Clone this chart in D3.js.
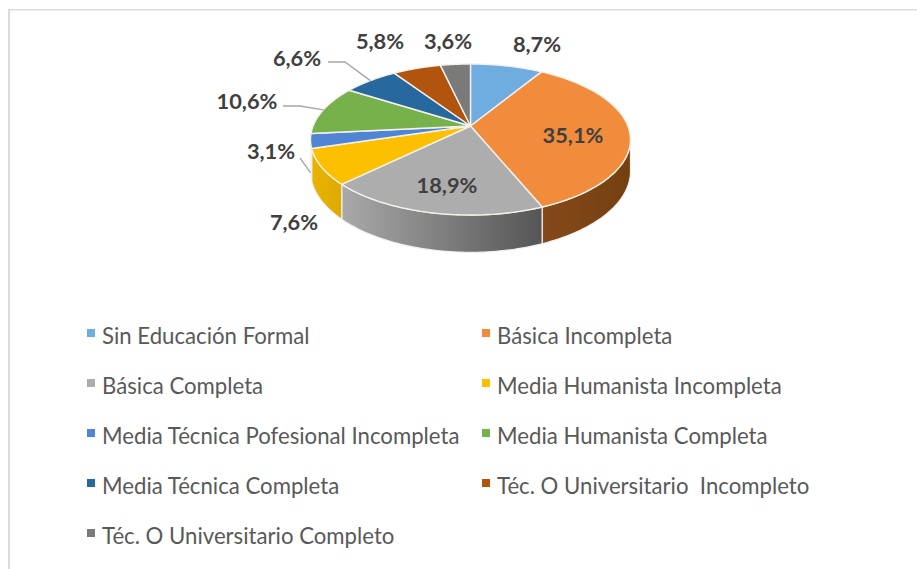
<!DOCTYPE html>
<html><head><meta charset="utf-8">
<script src="https://cdn.jsdelivr.net/npm/d3@7"></script>
<style>html,body{margin:0;background:#fff}svg{display:block}text{font-family:Lato,"Open Sans",sans-serif}</style>
</head><body><svg id="c" width="917" height="569"></svg>
<script>
const categories=["Sin Educación Formal","Básica Incompleta","Básica Completa","Media Humanista Incompleta","Media Técnica Pofesional Incompleta","Media Humanista Completa","Media Técnica Completa","Téc. O Universitario  Incompleto","Téc. O Universitario Completo"];
const values=[8.7,35.1,18.9,7.6,3.1,10.6,6.6,5.8,3.6];
const labels=["8,7%","35,1%","18,9%","7,6%","3,1%","10,6%","6,6%","5,8%","3,6%"];
const colors=["#6fade0","#f08c3c","#adadad","#fcc000","#4f85d2","#76b14c","#27689f","#b0540e","#7a7a7a"];
const wallDark=["#3d6a8f","#74400f","#555555","#deaa00","#2e5a9a","#44702c","#174060","#6b330a","#4a4a4a"];
const wallLight=["#5a8db8","#85491a","#a9a9a9","#e8b400","#3c6cb0","#5c8f3c","#1f5480","#8b4410","#606060"];
// layout
const labelPos=[[537,44],[573,135],[447,185],[294,222],[271,151],[247,101],[297,58],[380,41],[448,41]];
const leaderFrom={4:[300,158,true],5:[283,106,false],6:[328,62,false]};
const legendCols=[87,482], legendRows=[333,383,433,483,533];

const svg=d3.select("#c");
svg.append("rect").attr("x",8).attr("y",9).attr("width",2).attr("height",560).attr("fill","#dcdcdc");
svg.append("rect").attr("x",8).attr("y",9).attr("width",909).attr("height",1.5).attr("fill","#dcdcdc");
const defs=svg.append("defs");

const cx=470.5,cy=126,R=157.4,Rv=73.1,k=0.179,depth=30.6;
const persp=t=>1/(1+k*Math.cos(t));
const topPt=(t,r=1)=>{const s=persp(t);return [cx+r*R*Math.sin(t)*s,cy-r*Rv*Math.cos(t)*s];};
const bot=t=>{const p=topPt(t);return [p[0],p[1]+depth*persp(t)];};
const arcs=d3.pie().sort(null).value(d=>d)(values);
const frontA=Math.acos(-k),frontB=2*Math.PI-frontA;
const line=d3.line();
const samples=(a,b,n=60)=>d3.range(n+1).map(i=>a+(b-a)*i/n);

// walls
const gw=svg.append("g");
arcs.forEach((d,i)=>{
  const a=Math.max(d.startAngle,frontA),b=Math.min(d.endAngle,frontB);
  if(b<=a)return;
  const ts=samples(a,b);
  const pts=ts.map(t=>topPt(t)).concat(ts.slice().reverse().map(bot));
  const xs=pts.map(p=>p[0]);
  const id="w"+i;
  const g=defs.append("linearGradient").attr("id",id).attr("gradientUnits","userSpaceOnUse")
    .attr("x1",d3.min(xs)).attr("x2",d3.max(xs)).attr("y1",0).attr("y2",0);
  g.append("stop").attr("offset",0).attr("stop-color",wallLight[i]);
  g.append("stop").attr("offset",1).attr("stop-color",wallDark[i]);
  gw.append("path").attr("d",line(pts)+"Z").attr("fill",`url(#${id})`).attr("stroke","#f0f0f0").attr("stroke-width",1.2).attr("stroke-linejoin","round");
});
// top faces
const gt=svg.append("g");
arcs.forEach((d,i)=>{
  const pts=[[cx,cy]].concat(samples(d.startAngle,d.endAngle).map(t=>topPt(t)));
  gt.append("path").attr("d",line(pts)+"Z").attr("fill",colors[i]).attr("stroke","#f4f0ea").attr("stroke-width",1.4).attr("stroke-linejoin","round");
});
// leaders
arcs.forEach((d,i)=>{
  const f=leaderFrom[i]; if(!f)return;
  const mid=(d.startAngle+d.endAngle)/2;
  const end=f[2]?bot(mid):topPt(mid);
  const pts=f[2]?[[f[0],f[1]],end]:[[f[0],f[1]],[f[0]+17,f[1]],end];
  svg.append("path").attr("d",line(pts)).attr("fill","none").attr("stroke","#a6a6a6").attr("stroke-width",1.3);
});
// labels
svg.append("g").selectAll("text").data(labels).join("text")
  .attr("x",(d,i)=>labelPos[i][0]).attr("y",(d,i)=>labelPos[i][1]).attr("dy","0.35em")
  .attr("text-anchor","middle").attr("font-weight",700).attr("font-size",21.8).attr("fill","#404040").text(d=>d);
// legend
const lg=svg.append("g").selectAll("g").data(categories).join("g")
  .attr("transform",(d,i)=>`translate(${legendCols[i%2]},${legendRows[Math.floor(i/2)]})`);
lg.append("rect").attr("x",0).attr("y",-4).attr("width",8).attr("height",8).attr("fill",(d,i)=>colors[i]);
lg.append("text").attr("x",15).attr("y",10.5).attr("font-size",22.2).attr("fill","#595959").style("white-space","pre").text(d=>d);
</script></body></html>
